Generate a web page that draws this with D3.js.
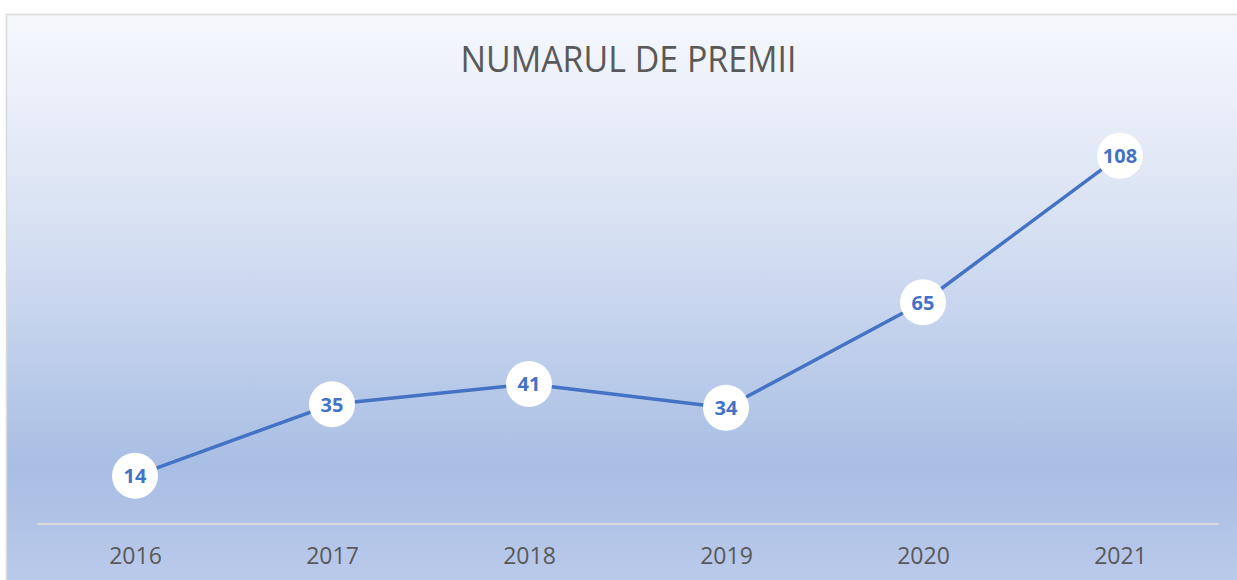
<!DOCTYPE html>
<html>
<head>
<meta charset="utf-8">
<script src="https://cdn.jsdelivr.net/npm/d3@7"></script>
<style>
  html, body { margin: 0; padding: 0; background: #ffffff; }
  svg { display: block; }
</style>
</head>
<body>
<div id="chart"></div>
<script>
// Chart data
const years = ["2016", "2017", "2018", "2019", "2020", "2021"];
const premii = [14, 35, 41, 34, 65, 108];
const chartTitle = "NUMARUL DE PREMII";

const width = 1237, height = 580;
const plot = { left: 36.5, right: 1218.5, top: 115, bottom: 523.5 };
const font = "'Open Sans', 'Noto Sans', sans-serif";

const svg = d3.select("#chart").append("svg")
    .attr("width", width)
    .attr("height", height);

// Background gradient (Excel-like)
const defs = svg.append("defs");
const grad = defs.append("linearGradient")
    .attr("id", "bg")
    .attr("x1", 0).attr("y1", 0).attr("x2", 0).attr("y2", 1);
grad.append("stop").attr("offset", "0%").attr("stop-color", "#f6f8fd");
grad.append("stop").attr("offset", "35%").attr("stop-color", "#d9e2f3");
grad.append("stop").attr("offset", "78%").attr("stop-color", "#a8bee4");
grad.append("stop").attr("offset", "100%").attr("stop-color", "#bccbeb");

svg.append("rect")
    .attr("x", 6.5).attr("y", 14.5)
    .attr("width", width + 10).attr("height", height)
    .attr("fill", "url(#bg)")
    .attr("stroke", "#d9d9d9")
    .attr("stroke-width", 1.5);

// Title
svg.append("text")
    .attr("x", 628.5).attr("y", 72)
    .attr("text-anchor", "middle")
    .attr("font-family", font)
    .attr("font-size", 36)
    .attr("textLength", 336)
    .attr("lengthAdjust", "spacingAndGlyphs")
    .attr("fill", "#595959")
    .text(chartTitle);

// Scales
const x = d3.scalePoint()
    .domain(years)
    .range([plot.left, plot.right])
    .padding(0.5);

const y = d3.scaleLinear()
    .domain([0, 120])
    .range([plot.bottom, plot.top]);

// X axis
const xAxis = svg.append("g")
    .attr("transform", `translate(0,${plot.bottom})`)
    .call(d3.axisBottom(x).tickSize(0).tickPadding(24));
xAxis.select(".domain")
    .attr("stroke", "#d9d9d9")
    .attr("stroke-width", 2);
xAxis.selectAll("text")
    .attr("font-family", font)
    .attr("font-size", 23)
    .attr("fill", "#595959");

const data = years.map((yr, i) => ({ year: yr, value: premii[i] }));

// Line
svg.append("path")
    .datum(data)
    .attr("fill", "none")
    .attr("stroke", "#4472c4")
    .attr("stroke-width", 3.5)
    .attr("stroke-linejoin", "round")
    .attr("d", d3.line().x(d => x(d.year)).y(d => y(d.value)));

// Data labels in white circles
const labels = svg.append("g").selectAll("g")
    .data(data)
    .enter()
    .append("g")
    .attr("transform", d => `translate(${x(d.year)},${y(d.value)})`);

labels.append("circle")
    .attr("r", 23)
    .attr("fill", "#ffffff");

labels.append("text")
    .attr("text-anchor", "middle")
    .attr("dy", "0.37em")
    .attr("font-family", font)
    .attr("font-weight", "bold")
    .attr("font-size", 20)
    .attr("fill", "#4472c4")
    .text(d => d.value);
</script>
</body>
</html>
